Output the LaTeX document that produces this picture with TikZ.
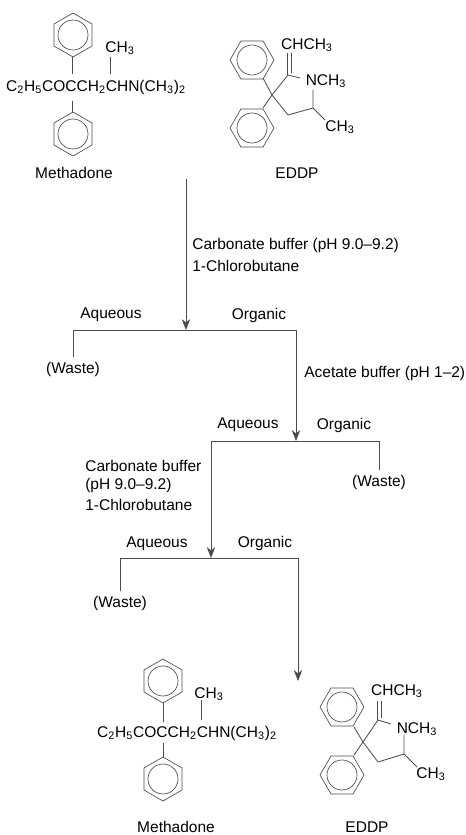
\documentclass[tikz,border=0pt]{standalone}
\usepackage{fontspec}
\setmainfont{Liberation Sans}
\usetikzlibrary{arrows.meta}
\newcommand{\chemsub}[1]{\textsubscript{#1}}
\tikzset{
  lbl/.style={font=\fontsize{9.3}{11}\selectfont,text=black,inner sep=0pt},
  lblleft/.style={lbl,anchor=west},
  wastelbl/.style={lbl,inner ysep=2.5pt},
  link/.style={draw=black!70,line width=0.5pt},
  flow/.style={link,-{Stealth[length=6.5pt,width=5pt,inset=2pt]}},
  ring/.style={draw=black!70,line width=0.4pt},
  benzeneup/.pic={
    \draw[ring] (90:22) -- (30:22) -- (-30:22) -- (-90:22) -- (-150:22) -- (150:22) -- cycle;
    \draw[ring] (0,0) circle (15);
  },
  benzeneflat/.pic={
    \draw[ring] (0:22) -- (60:22) -- (120:22) -- (180:22) -- (240:22) -- (300:22) -- cycle;
    \draw[ring] (0,0) circle (15);
  },
}
\begin{document}
\begin{tikzpicture}[x=0.6pt,y=-0.6pt]
\useasboundingbox (0,0) rectangle (465,835);
% top structures
\pic at (73,35) {benzeneup};
\pic at (73,134) {benzeneup};
\node[lbl] (methform) at (96,87) {C\chemsub{2}H\chemsub{5}COCCH\chemsub{2}CHN(CH\chemsub{3})\chemsub{2}};
\node[lbl] (methch) at (120,48) {CH\chemsub{3}};
\node[lbl] (methname) at (74,173) {Methadone};
\draw[link] (72,57) -- (72,74) (72,101) -- (72,112) (110,57) -- (110,74);
\pic at (252,60) {benzeneflat};
\pic at (252,128) {benzeneflat};
\node[lbl] (eddpa) at (307,45) {CHCH\chemsub{3}};
\node[lbl] (eddpb) at (326,81) {NCH\chemsub{3}};
\node[lbl] (eddpc) at (340,127) {CH\chemsub{3}};
\node[lbl] (eddpname) at (297,173) {EDDP};
\draw[link] (263,78) -- (272,95) -- (263,108);
\draw[link] (272,95) -- (288,75) -- (300,78);
\draw[link] (287,75) -- (287,53) (291,73) -- (291,53);
\draw[link] (272,95) -- (288,115) -- (313,108) -- (313,90) (313,108) -- (325,120);
% flow
\coordinate (start) at (186,179);
\coordinate (split1) at (186,330);
\coordinate (aq1) at (73,330);
\coordinate (org1) at (296,330);
\coordinate (split2) at (296,441);
\coordinate (aq2) at (211,441);
\coordinate (org2) at (379,441);
\coordinate (split3) at (211,558);
\coordinate (aq3) at (120,558);
\coordinate (org3) at (298,558);
\coordinate (endflow) at (298,681);
\node[wastelbl] (waste1) at (73,369) {(Waste)};
\node[wastelbl] (waste2) at (379,482) {(Waste)};
\node[wastelbl] (waste3) at (120,603) {(Waste)};
\draw[flow] (start) -- (split1);
\draw[link] (waste1) -- (aq1) -- (org1);
\draw[flow] (org1) -- (split2);
\draw[link] (waste2) -- (org2) -- (aq2);
\draw[flow] (aq2) -- (split3);
\draw[link] (waste3) -- (aq3) -- (org3);
\draw[flow] (org3) -- (endflow);
\node[lbl] (aqa) at (111,315) {Aqueous};
\node[lbl] (orga) at (259,315) {Organic};
\node[lbl] (aqb) at (248,425) {Aqueous};
\node[lbl] (orgb) at (344,425) {Organic};
\node[lbl] (aqc) at (157,544) {Aqueous};
\node[lbl] (orgc) at (265,543) {Organic};
\node[lblleft] (carba) at (192,245) {Carbonate buffer (pH 9.0--9.2)};
\node[lblleft] (chlora) at (192,266) {1-Chlorobutane};
\node[lblleft] (acet) at (304,373) {Acetate buffer (pH 1--2)};
\node[lblleft] (carbb) at (85,466) {Carbonate buffer};
\node[lblleft] (phb) at (85,485) {(pH 9.0--9.2)};
\node[lblleft] (chlorb) at (85,505) {1-Chlorobutane};
% bottom structures
\pic at (163,681) {benzeneup};
\pic at (163,779) {benzeneup};
\node[lbl] (methformb) at (187,733) {C\chemsub{2}H\chemsub{5}COCCH\chemsub{2}CHN(CH\chemsub{3})\chemsub{2}};
\node[lbl] (methchb) at (209,694) {CH\chemsub{3}};
\node[lbl] (methnameb) at (176,827) {Methadone};
\draw[link] (163,703) -- (163,722) (163,743) -- (163,757) (201,700) -- (201,720);
\pic at (342,707) {benzeneflat};
\pic at (342,775) {benzeneflat};
\node[lbl] (eddpd) at (397,691) {CHCH\chemsub{3}};
\node[lbl] (eddpe) at (417,729) {NCH\chemsub{3}};
\node[lbl] (eddpf) at (431,774) {CH\chemsub{3}};
\node[lbl] (eddpnameb) at (367,827) {EDDP};
\draw[link] (354,727) -- (363,742) -- (354,755);
\draw[link] (363,742) -- (378,720) -- (391,724);
\draw[link] (377,720) -- (377,701) (381,718) -- (381,701);
\draw[link] (363,742) -- (378,762) -- (404,754) -- (404,735) (404,754) -- (417,767);
\end{tikzpicture}
\end{document}
